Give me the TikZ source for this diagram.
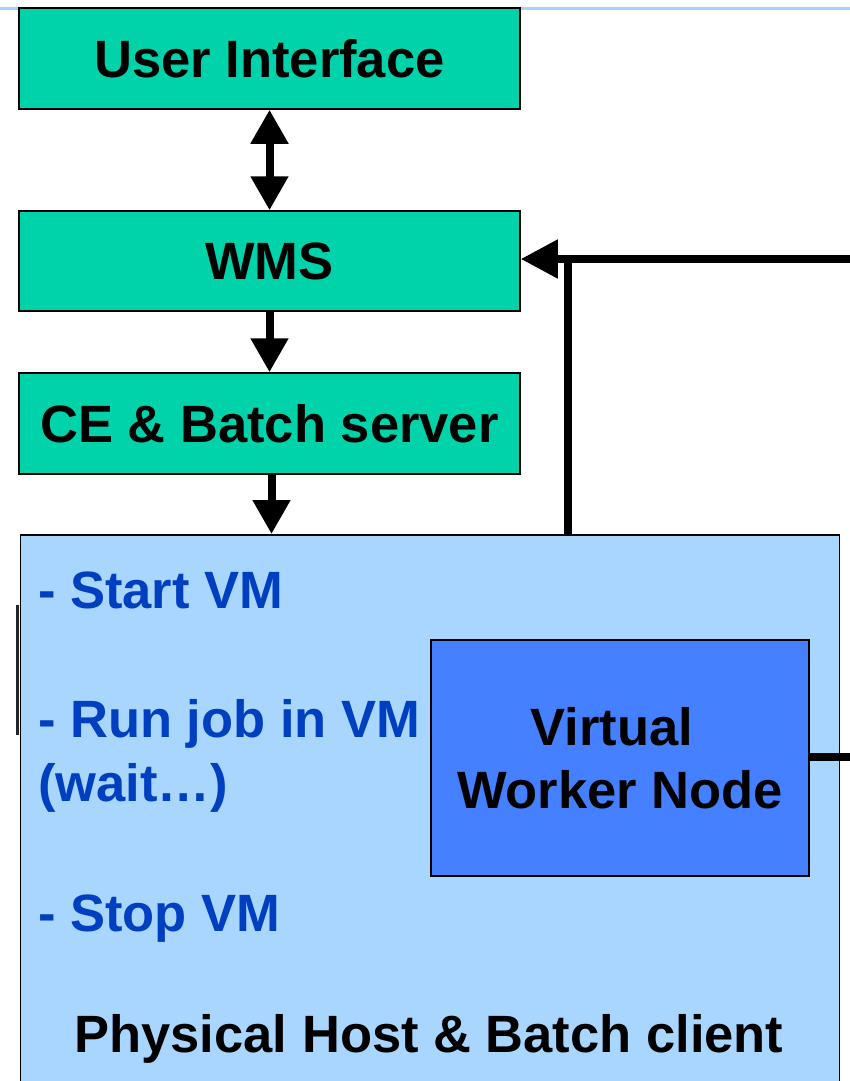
\documentclass[tikz,border=0pt]{standalone}
\usepackage{fontspec}
\setmainfont{Liberation Sans}
\usetikzlibrary{arrows.meta}
\definecolor{boxteal}{RGB}{0,210,170}
\definecolor{hostblue}{RGB}{168,214,255}
\definecolor{vmblue}{RGB}{68,128,255}
\definecolor{stepblue}{RGB}{0,64,192}
\definecolor{rulerblue}{RGB}{168,208,255}
\tikzset{
  bigfont/.style={font=\fontsize{52.5}{63}\selectfont\bfseries},
  servicebox/.style={draw=black, line width=1.5pt, fill=boxteal, minimum width=501pt, minimum height=101pt, inner sep=0pt, bigfont},
  steptext/.style={anchor=base west, inner sep=0pt, text=stepblue, bigfont},
  link/.style={line width=8pt},
  bigtip/.style={-{Triangle[width=36pt,length=34pt]}},
  bigtwotip/.style={{Triangle[width=36pt,length=34pt]}-{Triangle[width=36pt,length=34pt]}},
  sidetip/.style={-{Triangle[width=37pt,length=37pt]}}
}
\begin{document}
\begin{tikzpicture}[x=1pt,y=-1pt]
\useasboundingbox (0,0) rectangle (850,1081);
\clip (0,0) rectangle (850,1081);

% thin rule across the top
\draw[rulerblue, line width=3pt] (0,8.5) -- (850,8.5);

% service chain
\node[servicebox] (ui)  at (269.5,58.5)  {User Interface};
\node[servicebox, minimum height=100pt] (wms) at (269.5,261) {WMS};
\node[servicebox] (ce)  at (269.5,423.5) {CE \& Batch server};

% physical host (runs past the lower edge)
\node[draw=black, line width=1.8pt, fill=hostblue, minimum width=819pt, minimum height=570pt, inner sep=0pt, anchor=north west] (host) at (19.5,534) {};

% short dark stroke beside the host's left side
\draw[line width=3pt, black!85] (17.5,605) -- (17.5,735);

% virtual worker node
\node[draw=black, line width=1.5pt, fill=vmblue, minimum width=378pt, minimum height=236pt, inner sep=0pt, align=center, bigfont] (vwn) at (620,758) {Virtual\hspace*{16pt}\\Worker Node};

% steps listed inside the host
\node[steptext] (s1) at (38,608) {- Start VM};
\node[steptext] (s2) at (38,737) {- Run job in VM};
\node[steptext] (s3) at (38,801) {(wait\ldots)};
\node[steptext] (s4) at (38,931) {- Stop VM};
\node[anchor=base, inner sep=0pt, bigfont] (hostlabel) at (429,1052) {Physical Host \& Batch client};

% connectors between the services
\draw[link, bigtwotip] (ui.south) -- (wms.north);
\draw[link, bigtip] (wms.south) -- (ce.north);
\draw[link, bigtip] ([xshift=2pt]ce.south) -- ([xshift=2pt]ce.south |- host.north);

% feedback line into the WMS
\coordinate (feedin) at (860,259);
\coordinate (tee) at (568,259);
\draw[link, sidetip] (feedin) -- (wms.east |- feedin);
\draw[link] (tee) -- (tee |- host.north);

% line leaving the virtual worker node
\coordinate (vmout) at (860,757);
\draw[link] (vwn.east |- vmout) -- (vmout);
\end{tikzpicture}
\end{document}
